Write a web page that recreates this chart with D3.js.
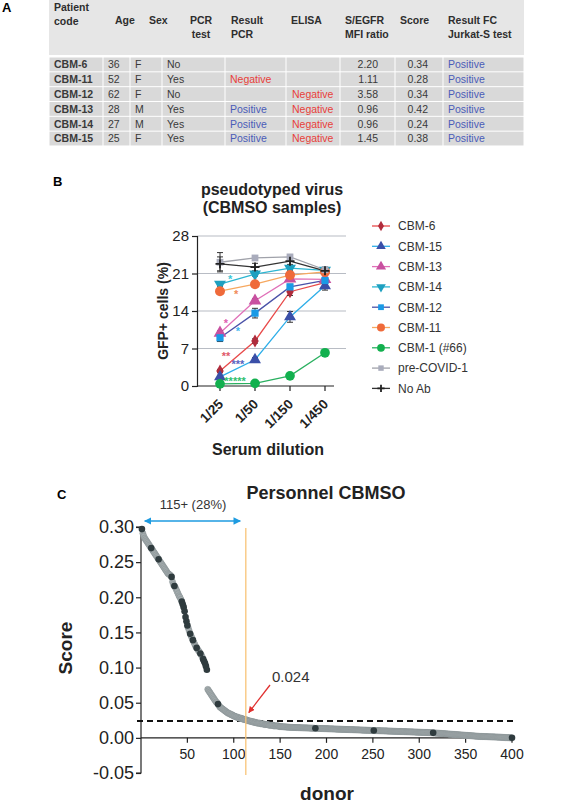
<!DOCTYPE html>
<html><head><meta charset="utf-8">
<script src="https://cdn.jsdelivr.net/npm/d3@7"></script>
<style>body{margin:0;background:#fff;} svg{display:block;font-family:"Liberation Sans",Arial,Helvetica,sans-serif;}</style>
</head><body><svg id="c" width="571" height="803"></svg>
<script>
// ---------- Panel A data ----------
const headerLabels = [["Patient","code"],["Age"],["Sex"],["PCR","test"],["Result","PCR"],["ELISA"],["S/EGFR","MFI ratio"],["Score"],["Result FC","Jurkat-S test"]];
const patientCodes = ["CBM-6","CBM-11","CBM-12","CBM-13","CBM-14","CBM-15"];
const ages = ["36","52","62","28","27","25"];
const sexes = ["F","F","F","M","M","F"];
const pcrTest = ["No","Yes","No","Yes","Yes","Yes"];
const resultPCR = ["","Negative","","Positive","Positive","Positive"];
const elisa = ["","","Negative","Negative","Negative","Negative"];
const mfiRatio = ["2.20","1.11","3.58","0.96","0.96","1.45"];
const tableScore = ["0.34","0.28","0.34","0.42","0.24","0.38"];
const resultFC = ["Positive","Positive","Positive","Positive","Positive","Positive"];

// ---------- Panel B data ----------
const dilutions = ["1/25","1/50","1/150","1/450"];
const yTicksB = [0,7,14,21,28];
const seriesNames = ["CBM-6","CBM-15","CBM-13","CBM-14","CBM-12","CBM-11","CBM-1 (#66)","pre-COVID-1","No Ab"];
const cbm6 = [2.8, 8.4, 17.6, 19.3];
const cbm15 = [1.7, 4.9, 12.9, 18.7];
const cbm13 = [9.9, 15.9, 20.0, 19.9];
const cbm14 = [19.0, 20.9, 22.0, 21.6];
const cbm12 = [9.0, 13.6, 18.5, 19.7];
const cbm11 = [17.7, 19.0, 20.7, 21.3];
const cbm1 = [0.4, 0.5, 1.9, 6.2];
const preCovid = [23.1, 23.9, 24.1, 21.7];
const noAb = [22.8, 22.2, 23.3, 21.5];
const errCbm6 = [0.3, 0.4, 0.7, 0.5];
const errCbm15 = [0.3, 0.4, 1.0, 0.8];
const errCbm13 = [0.4, 0.4, 0.4, 0.4];
const errCbm14 = [0.4, 0.4, 0.4, 0.5];
const errCbm12 = [0.7, 0.9, 0.5, 0.3];
const errCbm11 = [0.3, 0.3, 0.3, 0.4];
const errCbm1 = [0.2, 0.2, 0.3, 0.6];
const errPreCovid = [1.8, 0.3, 0.4, 0.5];
const errNoAb = [1.3, 0.7, 0.6, 0.6];
// significance stars: [text, position between dilutions (index), value]
const starLabels = ["*","*","*","*","**","***","*****"];
const starPos = [0.29, 0.46, 0.17, 0.51, 0.17, 0.51, 0.43];
const starVal = [20.2, 17.4, 11.9, 10.5, 5.8, 4.3, 1.1];

// ---------- Panel C data ----------
const xTicksC = [50,100,150,200,250,300,350,400];
const yTicksC = [-0.05,0,0.05,0.10,0.15,0.20,0.25,0.30];
const threshold = 0.024;
const cutoffDonor = 113;
const donorScores = [
.297,.291,.287,.284,.282,.280,.278,.276,.274,.272,
.270,.268,.266,.264,.262,.260,.258,.256,.254,.252,
.250,.248,.246,.244,.242,.240,.238,.236,.234,.233,
.232,.231,.229,.222,.218,.216,.214,.211,.208,.205,
.202,.200,.197,.194,.190,.186,.180,.172,.166,.160,
.156,.152,.148,.145,.142,.139,.136,.133,.130,.128,
.126,.124,.122,.120,.118,.115,.112,.109,.106,.102,.097,
.069,.067,.065,.063,.061,.059,.057,.055,.053,
.051,.050,.048,.046,.044,.043,.042,.041,.040,.039,
.038,.037,.036,.035,.035,.034,.033,.033,.032,.031,
.031,.030,.030,.029,.029,.028,.028,.028,.027,.027,
.026,.026,.026,.025,.025,.024,.024,.024,.023,.023,
.023,.022,.022,.022,.021,.021,.021,.021,.020,.020,
.020,.020,.019,.019,.019,.019,.019,.018,.018,.018,
.018,.018,.017,.017,.017,.017,.017,.017,.016,.016,
.0160,.0159,.0158,.0157,.0156,.0155,.0154,.0153,.0152,.0151,
.0150,.0149,.0149,.0148,.0148,.0147,.0147,.0146,.0146,.0145,
.0145,.0144,.0144,.0143,.0143,.0142,.0142,.0141,.0141,.0140,
.0140,.0139,.0139,.0138,.0138,.0137,.0137,.0136,.0136,.0135,
.0135,.0134,.0134,.0133,.0133,.0132,.0132,.0131,.0131,.0130,
.0130,.0129,.0129,.0128,.0128,.0127,.0127,.0126,.0126,.0125,
.0125,.0124,.0124,.0123,.0123,.0122,.0122,.0121,.0121,.0120,
.0120,.0119,.0119,.0118,.0118,.0117,.0117,.0116,.0116,.0115,
.0115,.0114,.0114,.0113,.0113,.0112,.0112,.0111,.0111,.0110,
.0110,.0109,.0109,.0108,.0108,.0107,.0107,.0106,.0106,.0105,
.0105,.0104,.0104,.0103,.0103,.0102,.0102,.0101,.0101,.0100,
.0100,.0099,.0099,.0098,.0098,.0097,.0097,.0096,.0096,.0095,
.0095,.0094,.0094,.0093,.0093,.0092,.0092,.0091,.0091,.0090,
.0090,.0089,.0089,.0088,.0088,.0087,.0087,.0086,.0086,.0085,
.0085,.0084,.0084,.0083,.0083,.0082,.0082,.0081,.0081,.0080,
.0080,.0079,.0079,.0078,.0078,.0077,.0077,.0076,.0076,.0075,
.0075,.0074,.0073,.0072,.0071,.0070,.0069,.0068,.0067,.0066,
.0065,.0064,.0063,.0062,.0061,.0060,.0059,.0058,.0057,.0056,
.0055,.0054,.0053,.0052,.0051,.0050,.0049,.0048,.0047,.0046,
.0045,.0044,.0043,.0042,.0041,.0040,.0039,.0038,.0037,.0036,
.0035,.0034,.0033,.0032,.0031,.0030,.0029,.0028,.0027,.0026,
.0025,.0024,.0023,.0022,.0021,.0020,.0020,.0019,.0019,.0018,
.0018,.0017,.0017,.0016,.0016,.0015,.0015,.0014,.0014,.0013,
.0013,.0012,.0012,.0011,.0011,.0010,.0010,.0009,.0008,.0007,
.0006,.0005,.0004,.0004,.0003,.0003,.0002,.0001,.0001,.0000];
const darkDonors = [1,11,19,33,36,44,45,46,47,48,49,50,53,56,60,64,67,68,69,70,71,83,188,251,315,400];

const svg = d3.select("#c");

// ================= Panel A =================
svg.append("text").attr("x",2).attr("y",12).attr("font-size",13).attr("font-weight","bold").text("A");
const colX = [49,103,130,162,225,286,340,395,443,524];
svg.append("rect").attr("x",49).attr("y",0).attr("width",475).attr("height",55).attr("fill","#e6e6e6");
const rowTop = 57, rowH = 14.83;
const tbl = svg.append("g");
patientCodes.forEach((c,i)=>{
  for(let k=0;k<colX.length-1;k++){
    tbl.append("rect").attr("x",colX[k]+0.5).attr("y",rowTop+i*rowH+0.5)
      .attr("width",colX[k+1]-colX[k]-1).attr("height",rowH-1).attr("fill","#d9d9d9");
  }
});
const hdrX = [54,115,149,201,231,291,345,400,448];
const hdrAnchor = ["start","start","start","middle","start","start","start","start","start"];
headerLabels.forEach((lines,k)=>{
  const y0 = k===0 ? 11 : 24;
  lines.forEach((t,j)=>{
    svg.append("text").attr("x",hdrX[k]).attr("y",y0+j*13.5).attr("text-anchor",hdrAnchor[k])
      .attr("font-size",10.5).attr("font-weight","bold").attr("fill","#2e2e2e").text(t);
  });
});
const red = "#e8403a", blue = "#4b5cb8";
const colDefs = [
  {arr:patientCodes, x:54, a:"start", bold:true},
  {arr:ages, x:108, a:"start"},
  {arr:sexes, x:135, a:"start"},
  {arr:pcrTest, x:167, a:"start"},
  {arr:resultPCR, x:230, a:"start"},
  {arr:elisa, x:292, a:"start"},
  {arr:mfiRatio, x:378, a:"end"},
  {arr:tableScore, x:428, a:"end"},
  {arr:resultFC, x:448, a:"start"}
];
colDefs.forEach(cd=>{
  cd.arr.forEach((t,i)=>{
    const col = t==="Negative"?red:(t==="Positive"?blue:"#3a3a3a");
    svg.append("text").attr("x",cd.x).attr("y",rowTop+i*rowH+11.2).attr("text-anchor",cd.a)
      .attr("font-size",10.5).attr("font-weight",cd.bold?"bold":"normal").attr("fill",col).text(t);
  });
});

// ================= Panel B =================
svg.append("text").attr("x",53).attr("y",186).attr("font-size",13).attr("font-weight","bold").text("B");
svg.append("text").attr("x",272).attr("y",195).attr("text-anchor","middle").attr("font-size",16).attr("font-weight","bold").attr("fill","#222").text("pseudotyped virus");
svg.append("text").attr("x",272).attr("y",213).attr("text-anchor","middle").attr("font-size",16).attr("font-weight","bold").attr("fill","#222").text("(CBMSO samples)");

const xB = d3.scalePoint().domain(dilutions).range([220,325]);
const yB = d3.scaleLinear().domain([0,28]).range([386,236]);
const gB = svg.append("g");
gB.selectAll(".grid").data(yTicksB.filter(d=>d>0)).enter().append("line")
  .attr("x1",197).attr("x2",346).attr("y1",d=>yB(d)).attr("y2",d=>yB(d))
  .attr("stroke","#b8bcc4").attr("stroke-width",1.2);
const yAxisB = d3.axisLeft(yB).tickValues(yTicksB).tickSize(5).tickPadding(3).tickFormat(d3.format("d"));
const gyB = gB.append("g").attr("transform","translate(197,0)").call(yAxisB);
gyB.select(".domain").attr("stroke","#222").attr("stroke-width",1.2);
gyB.selectAll(".tick line").attr("stroke","#222").attr("stroke-width",1.2);
gyB.selectAll(".tick text").attr("font-size",15).attr("fill","#222").attr("font-family","Liberation Sans, Arial, sans-serif");
gB.append("line").attr("x1",197).attr("x2",334).attr("y1",386).attr("y2",386).attr("stroke","#222").attr("stroke-width",1.2);
dilutions.forEach(d=>{
  gB.append("line").attr("x1",xB(d)).attr("x2",xB(d)).attr("y1",386).attr("y2",391).attr("stroke","#222").attr("stroke-width",1.2);
  gB.append("text").attr("transform",`translate(${xB(d)+4},${405}) rotate(-45)`).attr("text-anchor","end")
    .attr("font-size",13.5).attr("font-weight","bold").attr("fill","#222").text(d);
});
svg.append("text").attr("x",268).attr("y",455).attr("text-anchor","middle").attr("font-size",16).attr("font-weight","bold").attr("fill","#222").text("Serum dilution");
svg.append("text").attr("transform","translate(168,311) rotate(-90)").attr("text-anchor","middle").attr("font-size",14).attr("font-weight","bold").attr("fill","#222").text("GFP+ cells (%)");

const seriesVals = [cbm6,cbm15,cbm13,cbm14,cbm12,cbm11,cbm1,preCovid,noAb];
const seriesErr = [errCbm6,errCbm15,errCbm13,errCbm14,errCbm12,errCbm11,errCbm1,errPreCovid,errNoAb];
const lineCol = ["#e84a4a","#2eaee8","#e070b8","#2cb6d2","#4a52a8","#f6a860","#2ab060","#a0a2aa","#333333"];
const markCol = ["#b02c3c","#3a4fa8","#c850a0","#1ea0c0","#1a9ae6","#ef6a3a","#12b04e","#a9acbc","#222222"];
const markShape = ["diamond","tri","tri","tridown","square","circle","circle","square","plus"];
const markSize = [48,62,70,62,52,78,74,46,0];

function drawMarker(g, shape, col, size, x, y, scale){
  scale = scale||1;
  if(shape==="plus"){
    const s=4.5*scale;
    g.append("path").attr("d",`M${x-s},${y}H${x+s}M${x},${y-s}V${y+s}`).attr("stroke",col).attr("stroke-width",1.8);
    return;
  }
  const t = {diamond:d3.symbolDiamond,tri:d3.symbolTriangle,tridown:d3.symbolTriangle,square:d3.symbolSquare,circle:d3.symbolCircle}[shape];
  const rot = shape==="tridown"?180:0;
  g.append("path").attr("d",d3.symbol().type(t).size(size*scale*scale)())
    .attr("transform",`translate(${x},${y}) rotate(${rot})`).attr("fill",col);
}
const lineGen = d3.line().x((d,i)=>xB(dilutions[i])).y(d=>yB(d));
seriesVals.forEach((vals,s)=>{
  gB.append("path").attr("d",lineGen(vals)).attr("fill","none").attr("stroke",lineCol[s]).attr("stroke-width",1.3);
});
seriesVals.forEach((vals,s)=>{
  vals.forEach((v,i)=>{
    const e = seriesErr[s][i], x = xB(dilutions[i]);
    gB.append("path").attr("d",`M${x},${yB(v-e)}V${yB(v+e)}M${x-3},${yB(v-e)}H${x+3}M${x-3},${yB(v+e)}H${x+3}`)
      .attr("stroke","#333").attr("stroke-width",1).attr("fill","none");
  });
});
seriesVals.forEach((vals,s)=>{
  vals.forEach((v,i)=>drawMarker(gB, markShape[s], markCol[s], markSize[s], xB(dilutions[i]), yB(v)));
});
const starCol = ["#3cc8d8","#f08a5a","#e060b0","#40b8f0","#e05a6a","#5a64c0","#30c070"];
starLabels.forEach((t,k)=>{
  const x = xB(dilutions[0]) + starPos[k]*(xB(dilutions[1])-xB(dilutions[0]));
  gB.append("text").attr("x",x).attr("y",yB(starVal[k])+5).attr("text-anchor","middle")
    .attr("font-size",11).attr("font-weight","bold").attr("fill",starCol[k]).text(t);
});
const gL = svg.append("g");
seriesNames.forEach((n,s)=>{
  const y = 226 + s*20.3;
  gL.append("line").attr("x1",372).attr("x2",390).attr("y1",y).attr("y2",y).attr("stroke",lineCol[s]).attr("stroke-width",1.3);
  drawMarker(gL, markShape[s], markCol[s], markSize[s], 381, y, 0.8);
  gL.append("text").attr("x",398).attr("y",y+4.3).attr("font-size",12).attr("fill","#333").text(n);
});

// ================= Panel C =================
svg.append("text").attr("x",57).attr("y",499).attr("font-size",13).attr("font-weight","bold").text("C");
svg.append("text").attr("x",326).attr("y",499).attr("text-anchor","middle").attr("font-size",18).attr("font-weight","bold").attr("fill","#222").text("Personnel CBMSO");
const xC = d3.scaleLinear().domain([0,400]).range([141,512]);
const yC = d3.scaleLinear().domain([-0.05,0.30]).range([773,527]);
const gC = svg.append("g");
const yAxisC = d3.axisLeft(yC).tickValues(yTicksC).tickSize(5).tickPadding(2).tickFormat(d=>d.toFixed(2));
const gyC = gC.append("g").attr("transform","translate(141,0)").call(yAxisC);
gyC.select(".domain").attr("stroke","#222").attr("stroke-width",1.2).attr("d","M-5,527H0V773H-5");
gyC.selectAll(".tick line").attr("stroke","#222").attr("stroke-width",1.2);
gyC.selectAll(".tick text").attr("font-size",18).attr("fill","#222").attr("font-family","Liberation Sans, Arial, sans-serif");
gC.append("line").attr("x1",141).attr("x2",514).attr("y1",yC(0)).attr("y2",yC(0)).attr("stroke","#222").attr("stroke-width",1.2);
xTicksC.forEach(t=>{
  gC.append("line").attr("x1",xC(t)).attr("x2",xC(t)).attr("y1",yC(0)).attr("y2",yC(0)+5).attr("stroke","#222").attr("stroke-width",1.2);
  gC.append("text").attr("x",xC(t)).attr("y",yC(0)+21).attr("text-anchor","middle").attr("font-size",14).attr("fill","#222").text(t);
});
gC.append("line").attr("x1",137).attr("x2",513).attr("y1",yC(threshold)).attr("y2",yC(threshold))
  .attr("stroke","#111").attr("stroke-width",1.8).attr("stroke-dasharray","6,4");
const pts = donorScores.map((v,i)=>({d:i+1,v:v}));
const darkSet = new Set(darkDonors);
gC.selectAll(".pg").data(pts.filter(p=>!darkSet.has(p.d))).enter().append("circle")
  .attr("cx",p=>xC(p.d)).attr("cy",p=>yC(p.v)).attr("r",3.1)
  .attr("fill","#a4acae").attr("stroke","#7f898b").attr("stroke-width",0.4);
gC.selectAll(".pd").data(pts.filter(p=>darkSet.has(p.d))).enter().append("circle")
  .attr("cx",p=>xC(p.d)).attr("cy",p=>yC(p.v)).attr("r",3.3)
  .attr("fill","#2f3b3e");
gC.append("line").attr("x1",xC(cutoffDonor)).attr("x2",xC(cutoffDonor)).attr("y1",528).attr("y2",775)
  .attr("stroke","#f8c478").attr("stroke-width",1.3);
const defs = svg.append("defs");
function arrowMarker(id,col,orient){
  defs.append("marker").attr("id",id).attr("viewBox","0 0 10 10").attr("refX",9).attr("refY",5)
    .attr("markerWidth",5).attr("markerHeight",5).attr("orient",orient)
    .append("path").attr("d","M0,0L10,5L0,10z").attr("fill",col);
}
arrowMarker("ab","#1e9be0","auto-start-reverse");
arrowMarker("ar","#e0302f","auto");
gC.append("line").attr("x1",xC(4)).attr("x2",xC(107)).attr("y1",521).attr("y2",521)
  .attr("stroke","#1e9be0").attr("stroke-width",1.5).attr("marker-start","url(#ab)").attr("marker-end","url(#ab)");
svg.append("text").attr("x",193).attr("y",509).attr("text-anchor","middle").attr("font-size",13).attr("fill","#333").text("115+ (28%)");
gC.append("line").attr("x1",270).attr("y1",685).attr("x2",xC(cutoffDonor)+3).attr("y2",yC(0.036))
  .attr("stroke","#e0302f").attr("stroke-width",1.3).attr("marker-end","url(#ar)");
svg.append("text").attr("x",272).attr("y",682).attr("font-size",15).attr("fill","#333").text("0.024");
svg.append("text").attr("transform","translate(72,648) rotate(-90)").attr("text-anchor","middle").attr("font-size",19).attr("font-weight","bold").attr("fill","#222").text("Score");
svg.append("text").attr("x",327).attr("y",800).attr("text-anchor","middle").attr("font-size",19).attr("font-weight","bold").attr("fill","#222").text("donor");
</script></body></html>
